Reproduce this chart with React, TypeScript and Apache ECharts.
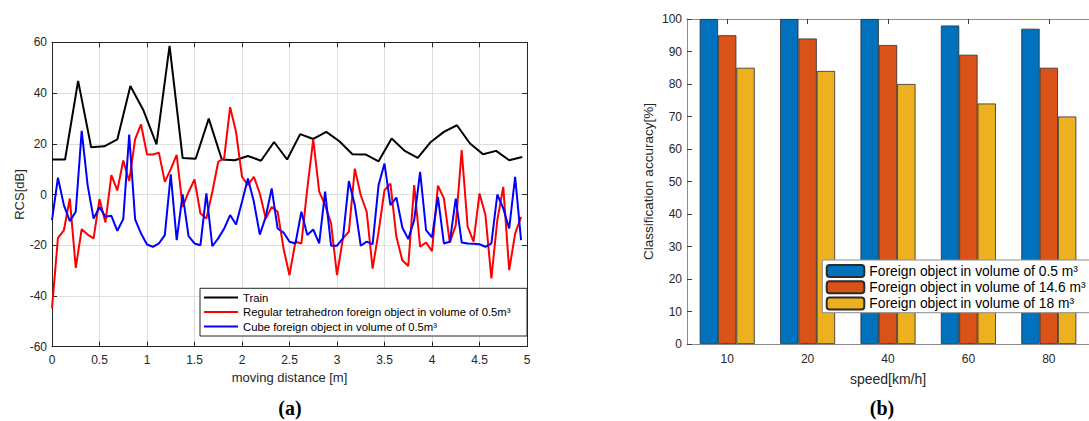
import React, { useEffect, useRef } from "react";
import * as echarts from "echarts";

// (a) RCS versus moving distance
const trainStep = 0.1375; // m between train samples
const objectStep = 0.0625; // m between foreign-object samples

const trainRcs = [
  13.8, 13.8, 44.8, 18.6, 19.0, 21.7, 42.8, 33.2, 19.8, 58.6, 14.4, 14.1, 29.9,
  13.8, 13.5, 15.2, 13.3, 20.7, 13.8, 23.8, 21.9, 24.7, 21.0, 15.9, 15.8, 13.1,
  22.1, 17.2, 14.4, 20.7, 24.7, 27.3, 20.1, 15.9, 17.2, 13.5, 14.8,
];

const tetrahedronRcs = [
  -44.9, -17.1, -14.1, -1.6, -28.9, -13.7, -15.8, -17.3, -1.8, -11.0, 7.6, 1.6,
  13.4, 5.3, 21.8, 27.6, 15.8,
  15.8, 16.5, 5.0, 10.0, 15.6, -4.9, 1.0, 5.9, -7.5, -9.5, 1.0, 12.9, 14.4,
  34.4, 24.6, 7.0, 3.7,
  7.0, 0.4, -9.5, -4.9, -6.8, -21.3, -31.8, -18.6, -19.3, 2.4, 21.7, 1.1, -4.2,
  -11.4, -31.8, -17.3, -14.7,
  10.2, -0.3, -6.8, -29.2, -14.7, 1.7, 4.3, -16.7, -25.9, -28.2, 3.7, -20.6,
  -18.9, -22.3,
  3.5, -1.5, -19.0, -12.1, 17.5, -12.7, -18.6, 0.4, -8.1, -33.1, -10.1, 3.0,
  -29.8, -15.4, -8.8,
];

const cubeRcs = [
  -10.1, 6.6, -4.2, -10.5, -6.8, 25.1, 3.7, -9.5, -4.9, -8.8, -8.4, -14.3, -9.7,
  23.6, -9.8, -15.4, -19.7,
  -20.6, -19.3, -16.0, 7.9, -18.0, 0.0, -16.4, -19.3, -20.0, 0.4, -20.4, -17.3,
  -13.4, -8.1, -11.8, -2.9, 6.3,
  -2.9, -15.8, -8.8, 2.4, -13.4, -15.0, -18.6, -19.3, -6.8, -16.0, -13.8, -19.3,
  1.1, -20.2, -20.2, -17.3, 5.3,
  -4.2, -20.2, -18.6, -19.6, 3.7, 12.2, -4.2, -1.2, -13.0, -17.6, -10.1, 8.9,
  -14.0, -16.9,
  -0.9, -19.3, -18.6, -1.6, -18.9, -19.3, -19.4, -19.6, -20.6, -19.3, 0.0, -5.5,
  -13.4, 7.0, -18.0,
];

const lineNames = [
  "Train",
  "Regular tetrahedron foreign object in volume of 0.5m³",
  "Cube foreign object in volume of 0.5m³",
];

// (b) classification accuracy versus speed
const speeds = ["10", "20", "40", "60", "80"];
const accuracySmall = [100, 100, 100, 98, 97];
const accuracyMedium = [95, 94, 92, 89, 85];
const accuracyLarge = [85, 84, 80, 74, 70];
const barNames = [
  "Foreign object in volume of 0.5 m³",
  "Foreign object in volume of 14.6 m³",
  "Foreign object in volume of 18 m³",
];

const FONT = "Liberation Sans, Arial, Helvetica, sans-serif";
const TEXT = "#262626";

const toPairs = (vals: number[], step: number) =>
  vals.map((v, i) => [+(i * step).toFixed(4), v]);

export default function App() {
  const ref = useRef<HTMLDivElement>(null);

  useEffect(() => {
    if (!ref.current) return;
    const chart = echarts.init(ref.current, null, { renderer: "svg" });

    const frameA = {
      show: true,
      onZero: false,
      lineStyle: { color: TEXT, width: 1 },
    };
    const frameB = {
      show: true,
      onZero: false,
      lineStyle: { color: "#8c8c8c", width: 1 },
    };
    const tickIn = (color: string) => ({
      show: true,
      inside: true,
      length: 5,
      lineStyle: { color, width: 1 },
    });

    chart.setOption({
      animation: false,
      textStyle: { fontFamily: FONT },
      grid: [
        { left: 52, top: 42.3, width: 475, height: 304.4 },
        { left: 687, top: 19, width: 410, height: 325 },
      ],
      xAxis: [
        {
          gridIndex: 0,
          type: "value",
          min: 0,
          max: 5,
          interval: 0.5,
          axisLine: frameA,
          axisTick: tickIn(TEXT),
          axisLabel: { color: TEXT, fontSize: 12, margin: 7, fontFamily: FONT },
          splitLine: { show: true, lineStyle: { color: "#dedede", width: 1 } },
          name: "moving distance [m]",
          nameLocation: "middle",
          nameGap: 24,
          nameTextStyle: { color: TEXT, fontSize: 13, fontFamily: FONT },
        },
        {
          gridIndex: 0,
          type: "value",
          position: "top",
          min: 0,
          max: 5,
          interval: 0.5,
          axisLine: frameA,
          axisTick: tickIn(TEXT),
          axisLabel: { show: false },
          splitLine: { show: false },
        },
        {
          gridIndex: 1,
          type: "category",
          data: speeds,
          axisLine: frameB,
          axisTick: { ...tickIn("#404040"), alignWithLabel: true },
          axisLabel: { color: TEXT, fontSize: 12, margin: 9, fontFamily: FONT },
          name: "speed[km/h]",
          nameLocation: "middle",
          nameGap: 28,
          nameTextStyle: { color: TEXT, fontSize: 14, fontFamily: FONT },
        },
        {
          gridIndex: 1,
          type: "category",
          data: speeds,
          position: "top",
          axisLine: frameB,
          axisTick: { ...tickIn("#404040"), alignWithLabel: true },
          axisLabel: { show: false },
        },
      ],
      yAxis: [
        {
          gridIndex: 0,
          type: "value",
          min: -60,
          max: 60,
          interval: 20,
          axisLine: frameA,
          axisTick: tickIn(TEXT),
          axisLabel: { color: TEXT, fontSize: 12, margin: 5, fontFamily: FONT },
          splitLine: { show: true, lineStyle: { color: "#dedede", width: 1 } },
          name: "RCS[dB]",
          nameLocation: "middle",
          nameGap: 23,
          nameTextStyle: { color: TEXT, fontSize: 13, fontFamily: FONT },
        },
        {
          gridIndex: 0,
          type: "value",
          position: "right",
          min: -60,
          max: 60,
          interval: 20,
          axisLine: frameA,
          axisTick: tickIn(TEXT),
          axisLabel: { show: false },
          splitLine: { show: false },
        },
        {
          gridIndex: 1,
          type: "value",
          min: 0,
          max: 100,
          interval: 10,
          axisLine: frameB,
          axisTick: tickIn("#404040"),
          axisLabel: { color: TEXT, fontSize: 12, margin: 5, fontFamily: FONT },
          splitLine: { show: false },
          name: "Classification accuracy[%]",
          nameLocation: "middle",
          nameGap: 32,
          nameTextStyle: { color: TEXT, fontSize: 13.5, fontFamily: FONT },
        },
      ],
      legend: [
        {
          data: lineNames,
          orient: "vertical",
          left: 204,
          top: 291,
          padding: 0,
          icon: "rect",
          itemWidth: 34,
          itemHeight: 2,
          itemGap: 1.5,
          z: 10,
          textStyle: { color: "#000", fontSize: 11.3, lineHeight: 13, fontFamily: FONT },
        },
        {
          data: barNames,
          orient: "vertical",
          left: 825.7,
          top: 263,
          padding: 0,
          itemWidth: 37.6,
          itemHeight: 12,
          itemGap: 0.3,
          z: 10,
          textStyle: { color: "#000", fontSize: 13.8, lineHeight: 16, fontFamily: FONT },
        },
      ],
      graphic: [
        {
          type: "rect",
          z: 5,
          shape: { x: 200, y: 288.3, width: 327, height: 47.7 },
          style: { fill: "#fff", stroke: TEXT, lineWidth: 1 },
        },
        {
          type: "rect",
          z: 5,
          shape: { x: 822.3, y: 260, width: 272, height: 52.7 },
          style: { fill: "#fff", stroke: "#8c8c8c", lineWidth: 1 },
        },
        {
          type: "text",
          x: 290,
          y: 408,
          style: {
            text: "(a)",
            font: "bold 20px 'Liberation Serif', 'DejaVu Serif', serif",
            fill: "#000",
            textAlign: "center",
            textVerticalAlign: "middle",
          },
        },
        {
          type: "text",
          x: 882,
          y: 408,
          style: {
            text: "(b)",
            font: "bold 20px 'Liberation Serif', 'DejaVu Serif', serif",
            fill: "#000",
            textAlign: "center",
            textVerticalAlign: "middle",
          },
        },
      ],
      series: [
        {
          name: lineNames[0],
          type: "line",
          xAxisIndex: 0,
          yAxisIndex: 0,
          data: toPairs(trainRcs, trainStep),
          symbol: "none",
          lineStyle: { color: "#000000", width: 2 },
          itemStyle: { color: "#000000" },
        },
        {
          name: lineNames[1],
          type: "line",
          xAxisIndex: 0,
          yAxisIndex: 0,
          data: toPairs(tetrahedronRcs, objectStep),
          symbol: "none",
          lineStyle: { color: "#ff0000", width: 2 },
          itemStyle: { color: "#ff0000" },
        },
        {
          name: lineNames[2],
          type: "line",
          xAxisIndex: 0,
          yAxisIndex: 0,
          data: toPairs(cubeRcs, objectStep),
          symbol: "none",
          lineStyle: { color: "#0000ff", width: 2 },
          itemStyle: { color: "#0000ff" },
        },
        ...[accuracySmall, accuracyMedium, accuracyLarge].map((vals, i) => ({
          name: barNames[i],
          type: "bar",
          xAxisIndex: 2,
          yAxisIndex: 2,
          data: vals,
          barWidth: 18.33,
          barGap: "0%",
          itemStyle: {
            color: ["#0072BD", "#D95319", "#EDB120"][i],
            borderColor: "#2b2b2b",
            borderWidth: 0.8,
          },
        })),
      ],
    });

    return () => chart.dispose();
  }, []);

  return (
    <div
      ref={ref}
      style={{ position: "absolute", left: 0, top: 0, width: 1089, height: 421, background: "#fff" }}
    />
  );
}
